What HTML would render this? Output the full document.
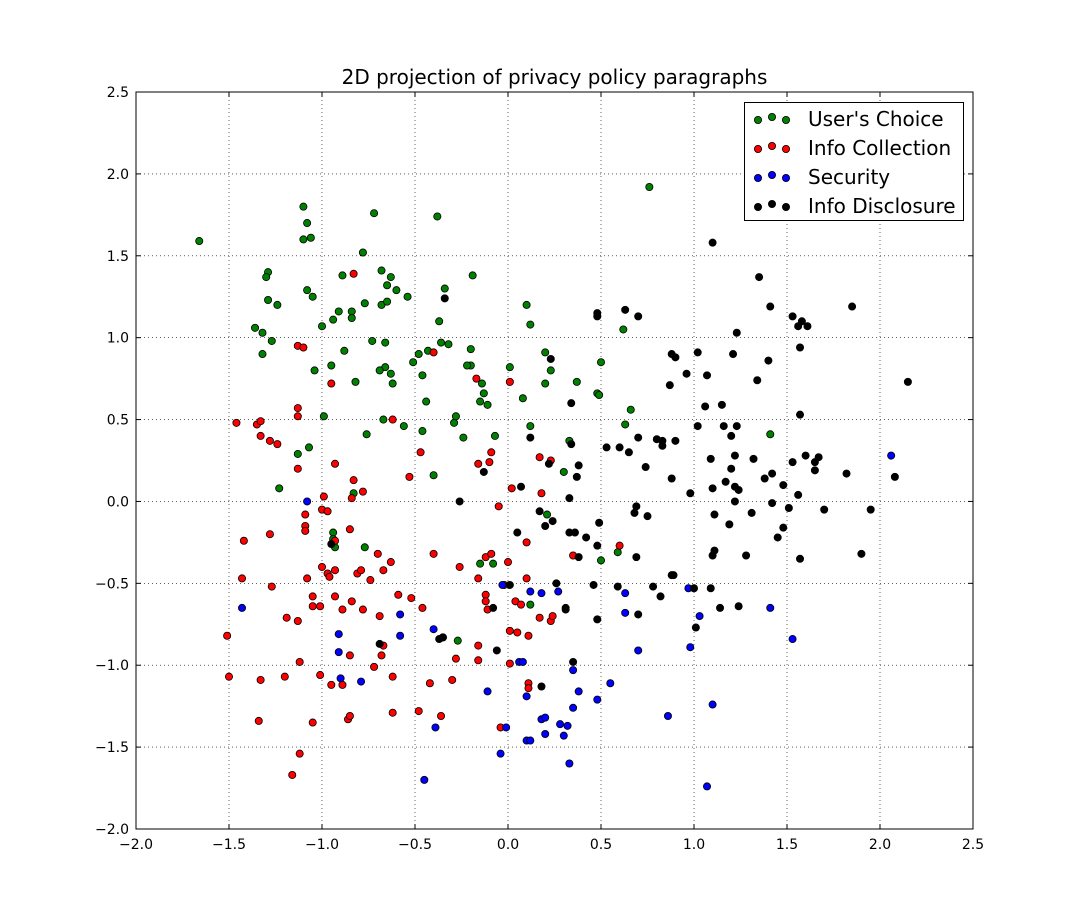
<!DOCTYPE html>
<html><head><meta charset="utf-8"><style>
html,body{margin:0;padding:0;background:#fff;}
svg{display:block;font-family:"DejaVu Sans","Liberation Sans",sans-serif;}
</style></head><body>
<svg id="chart" width="1081" height="921"></svg>
<script>
const xTicks=[-2.0,-1.5,-1.0,-0.5,0.0,0.5,1.0,1.5,2.0,2.5];
const yTicks=[-2.0,-1.5,-1.0,-0.5,0.0,0.5,1.0,1.5,2.0,2.5];
const seriesNames=["User's Choice","Info Collection","Security","Info Disclosure"];
const seriesColors=["#008000","#ff0000","#0000ff","#000000"];
const greenX=[-1.66,-1.10,-1.08,-1.10,-1.06,-0.72,-0.38,-1.29,-1.30,-1.36,-1.32,-1.29,-1.24,-1.27,-1.32,-1.08,-1.05,-0.91,-0.89,-0.84,-0.84,-0.78,-0.77,-0.68,-0.68,-0.65,-0.65,-0.63,-0.60,-0.54,-0.34,-0.19,-1.00,-0.94,-0.73,-0.66,-0.37,-0.36,-0.32,-0.88,-0.95,-0.82,-0.66,-0.63,-0.69,-0.62,-0.51,-0.48,-0.43,-0.46,-0.20,-0.20,-0.22,-0.14,-0.13,-0.15,-0.11,-1.04,-0.99,-1.13,-1.07,-1.23,-0.76,-0.67,-0.56,-0.46,-0.44,-0.29,-0.28,-0.24,-0.40,-0.07,0.01,0.10,0.12,0.08,0.12,0.20,0.23,0.20,0.37,0.48,0.50,0.62,0.63,0.66,0.76,0.30,0.33,0.21,-0.94,-0.94,-0.93,-0.83,-0.77,-0.08,-0.15,0.12,-0.27,0.50,0.59,1.41,0.49];
const greenY=[1.59,1.80,1.70,1.60,1.61,1.76,1.74,1.40,1.37,1.06,1.03,1.23,1.20,0.98,0.90,1.29,1.25,1.16,1.38,1.16,1.12,1.52,1.21,1.41,1.20,1.22,1.32,1.37,1.29,1.25,1.30,1.38,1.07,1.11,0.98,0.97,1.10,0.97,0.96,0.92,0.83,0.73,0.82,0.78,0.80,0.72,0.85,0.90,0.92,0.77,0.93,0.83,0.83,0.72,0.66,0.61,0.59,0.80,0.52,0.29,0.33,0.08,0.41,0.50,0.46,0.43,0.61,0.48,0.52,0.39,0.16,0.40,0.82,1.20,1.08,0.63,0.46,0.91,0.80,0.72,0.73,0.66,0.85,1.05,0.47,0.56,1.92,0.18,0.37,-0.08,-0.19,-0.23,-0.28,0.05,-0.28,-0.38,-0.38,-0.63,-0.85,-0.36,-0.31,0.41,0.65];
const redX=[-0.83,-1.13,-1.10,-1.46,-1.35,-1.33,-1.33,-1.28,-1.24,-1.13,-1.13,-1.13,-0.95,-0.62,-0.40,-0.17,0.01,-0.09,-0.10,-0.16,0.02,0.17,0.18,0.23,-0.93,-0.83,-0.84,-0.78,-1.09,-1.09,-1.09,-0.99,-1.00,-0.97,-0.85,-0.93,-1.42,-1.28,-1.43,-1.27,-1.08,-1.00,-0.97,-0.96,-0.93,-0.81,-0.79,-0.74,-0.70,-0.67,-0.63,-0.59,-0.53,-0.47,-0.40,-0.26,-0.16,-0.12,-0.12,-0.11,-0.12,-0.09,-0.05,0.00,0.10,0.10,0.04,0.07,0.17,0.23,0.24,0.35,0.60,-1.51,-1.50,-1.33,-1.34,-1.19,-1.13,-1.20,-1.12,-1.16,-1.12,-1.05,-1.05,-1.01,-1.05,-1.01,-0.95,-0.93,-0.89,-0.89,-0.84,-0.85,-0.86,-0.85,-0.78,-0.72,-0.69,-0.68,-0.67,-0.62,-0.62,-0.52,-0.46,-0.42,-0.48,-0.36,-0.35,-0.30,-0.28,-0.16,-0.16,-0.04,0.01,0.05,0.01,0.11,0.11,0.11,-0.02];
const redY=[1.39,0.95,0.94,0.48,0.47,0.49,0.40,0.37,0.35,0.57,0.52,0.20,0.72,0.50,0.91,0.75,0.73,0.30,0.24,0.23,0.08,0.27,0.05,0.25,0.23,0.13,0.02,0.06,-0.08,-0.15,-0.18,0.03,-0.05,-0.06,-0.17,-0.24,-0.24,-0.20,-0.47,-0.52,-0.47,-0.40,-0.44,-0.46,-0.42,-0.44,-0.42,-0.48,-0.32,-0.42,-0.37,-0.57,0.15,0.30,-0.32,-0.40,-0.47,-0.57,-0.61,-0.66,-0.34,-0.32,-0.03,-0.37,-0.25,-0.47,-0.61,-0.63,-0.71,-0.73,-0.70,-0.33,-0.27,-0.82,-1.07,-1.09,-1.34,-0.71,-0.73,-1.07,-0.98,-1.67,-1.54,-0.58,-0.64,-0.64,-1.35,-1.06,-1.12,-0.58,-0.66,-1.12,-0.61,-0.94,-1.33,-1.31,-0.66,-1.01,-0.70,-0.94,-0.88,-1.07,-1.29,-0.59,-0.65,-1.11,-1.28,-1.31,-0.83,-1.09,-0.96,-0.88,-0.97,-1.38,-0.79,-0.80,-0.99,-1.11,-1.14,-0.82,-0.51];
const blueX=[-1.08,-1.43,-0.91,-0.91,-0.90,-0.79,-0.58,-0.58,-0.40,-0.39,-0.45,-0.11,-0.04,-0.03,-0.01,0.06,0.08,0.10,0.10,0.12,0.12,0.18,0.20,0.20,0.18,0.27,0.28,0.30,0.32,0.33,0.35,0.35,0.38,0.48,0.55,0.63,0.63,0.70,0.86,0.97,0.98,1.03,1.07,1.10,1.41,1.53,2.06];
const blueY=[0.00,-0.65,-0.81,-0.92,-1.08,-1.10,-0.82,-0.69,-0.78,-1.38,-1.70,-1.16,-1.54,-0.51,-1.38,-0.98,-0.98,-1.19,-1.46,-1.46,-0.55,-1.33,-1.32,-1.42,-0.56,-0.55,-1.36,-1.43,-1.37,-1.60,-1.26,-1.03,-1.16,-1.21,-1.11,-0.56,-0.68,-0.91,-1.31,-0.53,-0.89,-0.70,-1.74,-1.24,-0.65,-0.84,0.28];
const blackX=[1.10,0.48,0.48,0.63,0.70,-0.34,0.23,0.34,0.37,0.38,0.34,0.33,0.33,0.36,0.38,0.42,0.49,0.48,0.53,0.60,0.65,0.68,0.69,0.70,0.69,0.70,0.74,0.75,0.78,0.80,0.82,0.83,0.83,0.87,0.88,0.88,0.90,0.90,0.89,0.88,0.96,0.98,1.00,1.01,1.02,1.02,1.06,1.07,1.09,1.10,1.11,1.10,1.11,1.09,1.14,1.15,1.16,1.17,1.19,1.20,1.20,1.21,1.22,1.22,1.23,1.23,1.22,1.24,1.24,1.28,1.31,1.32,1.34,1.35,1.38,1.40,1.41,1.42,1.42,1.45,1.48,1.48,1.51,1.53,1.53,1.56,1.56,1.57,1.57,1.57,1.58,1.60,1.61,1.65,1.65,1.67,1.70,1.82,1.85,1.90,1.95,2.08,2.15,0.22,0.24,0.20,0.17,0.12,0.05,0.07,-0.13,-0.08,-0.06,0.18,0.26,0.31,0.31,0.35,0.46,0.48,0.59,-0.26,-0.37,-0.35,-0.95,-0.69,0.01];
const blackY=[1.58,1.15,1.13,1.17,1.13,1.24,0.87,0.60,0.15,0.22,0.35,0.02,-0.19,-0.19,-0.34,-0.22,-0.13,-0.27,0.33,0.33,0.30,-0.07,-0.03,0.39,-0.34,-0.69,0.21,-0.09,-0.52,0.38,-0.58,0.34,0.37,0.71,0.14,0.90,0.88,0.37,-0.45,-0.45,0.78,0.05,-0.53,-0.77,0.46,0.91,0.58,0.77,0.26,0.08,-0.30,-0.33,-0.08,-0.53,-0.65,0.59,0.46,0.12,-0.14,0.40,0.20,0.90,0.09,0.28,0.46,1.03,0.00,0.07,-0.64,-0.33,-0.07,0.26,0.74,1.37,0.14,0.86,1.19,0.17,-0.01,-0.22,0.10,-0.16,-0.04,1.13,0.24,1.07,0.04,0.94,0.53,-0.35,1.10,0.28,1.07,0.19,0.24,0.27,-0.05,0.17,1.19,-0.32,-0.05,0.15,0.73,0.23,-0.12,-0.15,-0.06,0.39,-0.19,0.09,0.18,-0.65,-0.91,-1.13,-0.50,-0.65,-0.66,-0.98,-0.51,-0.72,-0.52,0.00,-0.84,-0.83,-0.26,-0.87,-0.51];

const NS="http://www.w3.org/2000/svg";
const svg=document.getElementById('chart');
const L=136,R=973,T=92,B=829;
const xMin=-2,xMax=2.5,yMin=-2,yMax=2.5;
function sx(v){return L+(v-xMin)/(xMax-xMin)*(R-L);}
function sy(v){return B-(v-yMin)/(yMax-yMin)*(B-T);}
function fmt(v){return (v<0?'\u2212':'')+Math.abs(v).toFixed(1);}
function mk(tag,attrs,parent){const e=document.createElementNS(NS,tag);for(const k in attrs)e.setAttribute(k,attrs[k]);(parent||svg).appendChild(e);return e;}

const title=mk('text',{x:(L+R)/2,y:84,'text-anchor':'middle','font-size':20,fill:'#000'});


title.textContent='2D projection of privacy policy paragraphs';

const grid=mk('g',{});


xTicks.forEach(t=>{const x=sx(t);
  mk('line',{x1:x,x2:x,y1:T,y2:B,stroke:'#000','stroke-width':0.6,'stroke-dasharray':'1,3'},grid);
  mk('line',{x1:x,x2:x,y1:B,y2:B-5,stroke:'#000','stroke-width':1},grid);
  mk('line',{x1:x,x2:x,y1:T,y2:T+5,stroke:'#000','stroke-width':1},grid);
  const lb=mk('text',{x:x,y:B+20,'text-anchor':'middle','font-size':14,fill:'#000'});
  
  
  lb.textContent=fmt(t);
});
yTicks.forEach(t=>{const y=sy(t);
  mk('line',{x1:L,x2:R,y1:y,y2:y,stroke:'#000','stroke-width':0.6,'stroke-dasharray':'1,3'},grid);
  mk('line',{x1:L,x2:L+5,y1:y,y2:y,stroke:'#000','stroke-width':1},grid);
  mk('line',{x1:R,x2:R-5,y1:y,y2:y,stroke:'#000','stroke-width':1},grid);
  const lb=mk('text',{x:L-7,y:y+5,'text-anchor':'end','font-size':14,fill:'#000'});
  
  
  lb.textContent=fmt(t);
});

const allX=[greenX,redX,blueX,blackX],allY=[greenY,redY,blueY,blackY];
const pts=mk('g',{});


for(let s=0;s<4;s++){
  for(let i=0;i<allX[s].length;i++){
    const c=mk('circle',{cx:sx(allX[s][i]),cy:sy(allY[s][i]),r:3.6,fill:seriesColors[s],stroke:'#000','stroke-width':0.8},pts);
    
    
  }
}

const frame=mk('rect',{x:L,y:T,width:R-L,height:B-T,fill:'none',stroke:'#000','stroke-width':1});



const leg=mk('g',{});


mk('rect',{x:744.5,y:102.5,width:219,height:118,fill:'#fff',stroke:'#000','stroke-width':1},leg);
seriesNames.forEach((n,i)=>{
  const y=119+i*29;
  const ent=mk('g',{},leg);
  
  
  [[758,y+1],[772,y-2],[786,y+1]].forEach(p=>mk('circle',{cx:p[0],cy:p[1],r:3.6,fill:seriesColors[i],stroke:'#000','stroke-width':0.8},ent));
  const tx=mk('text',{x:808,y:y+7,'font-size':20,fill:'#000'},ent);
  tx.textContent=n;
});
</script>
</body></html>
